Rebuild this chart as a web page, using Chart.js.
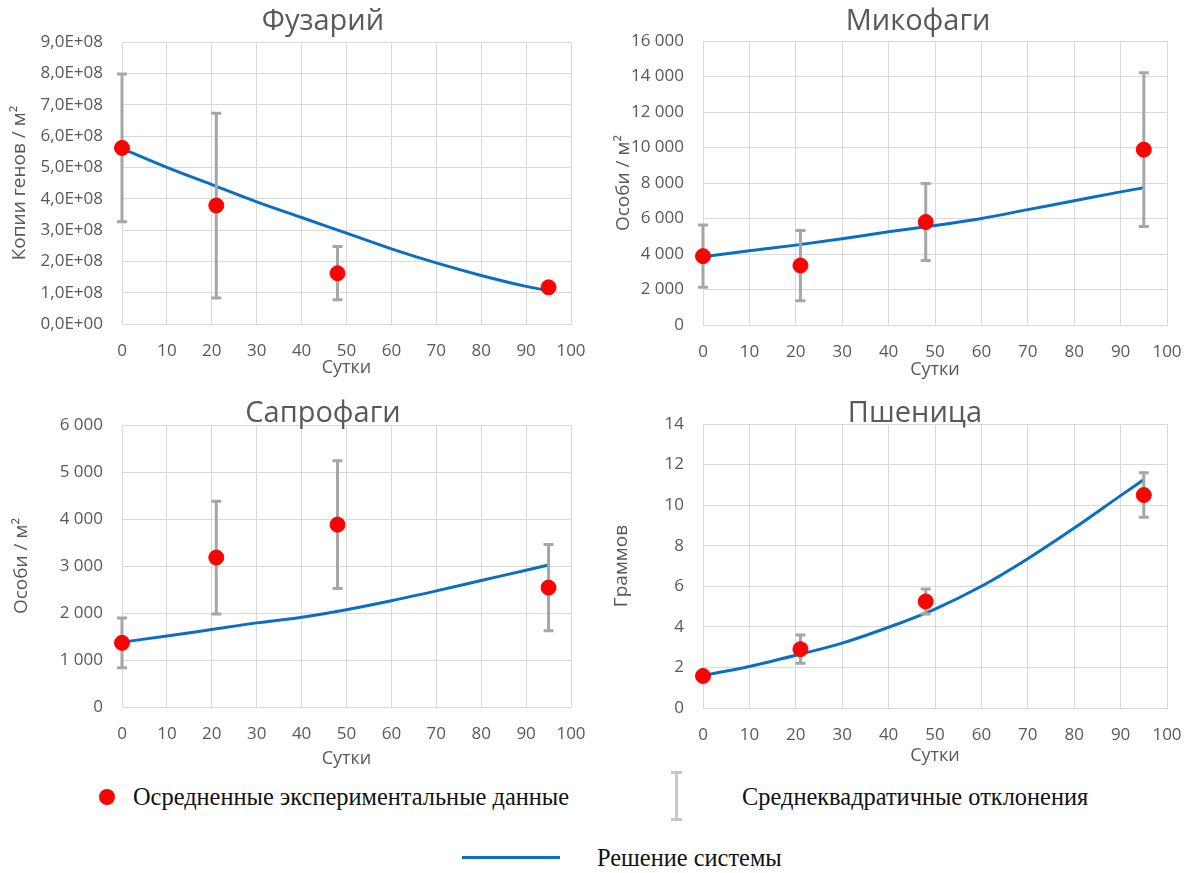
<!DOCTYPE html>
<html>
<head>
<meta charset="utf-8">
<script src="https://cdn.jsdelivr.net/npm/chart.js@4.4.1/dist/chart.umd.min.js"></script>
<style>
  body { margin: 0; background: #fff; width: 1189px; height: 873px; overflow: hidden; position: relative; font-family: "Open Sans", sans-serif; }
  canvas { position: absolute; }
  .ttl { position: absolute; transform: translate(-50%, -50%); font-size: 29px; color: #595959; white-space: nowrap; }
  .leg { position: absolute; transform: translateY(-50%); font-family: "Liberation Serif", serif; font-size: 24.4px; color: #111; white-space: nowrap; }
  .dot { position: absolute; width: 16px; height: 16px; border-radius: 50%; background: #ff0000; }
  .bar { position: absolute; background: #c8c8c8; }
  .sol { position: absolute; height: 3px; background: #0a6fc2; }
</style>
</head>
<body>
<canvas id="fus" width="590" height="385" style="left:0;top:0"></canvas>
<canvas id="myc" width="599" height="385" style="left:590px;top:0"></canvas>
<canvas id="sap" width="590" height="395" style="left:0;top:385px"></canvas>
<canvas id="wheat" width="599" height="395" style="left:590px;top:385px"></canvas>

<div class="ttl" style="left:323px;top:18px">Фузарий</div>
<div class="ttl" style="left:918px;top:18px">Микофаги</div>
<div class="ttl" style="left:323px;top:410px">Сапрофаги</div>
<div class="ttl" style="left:915px;top:410px">Пшеница</div>

<!-- legend -->
<div class="dot" style="left:99px;top:789px"></div>
<div class="leg" style="left:133px;top:797px">Осредненные экспериментальные данные</div>
<div class="bar" style="left:675px;top:772px;width:3px;height:48px"></div>
<div class="bar" style="left:671px;top:771px;width:11px;height:3px"></div>
<div class="bar" style="left:671px;top:818px;width:11px;height:3px"></div>
<div class="leg" style="left:742px;top:797px">Среднеквадратичные отклонения</div>
<div class="sol" style="left:462px;top:856px;width:98px"></div>
<div class="leg" style="left:597px;top:858px">Решение системы</div>

<script>
// sampling days of the experiment and of the model curve
const days = [0, 21, 48, 95];
const lineDays = [0, 10, 20, 30, 40, 50, 60, 70, 80, 90, 95];

// Фузарий, gene copies / m2
const fusMean = [5.62e8, 3.78e8, 1.62e8, 1.17e8];
const fusSd = [2.36e8, 2.95e8, 0.85e8, 0];
const fusModel = [5.6e8, 5.0e8, 4.45e8, 3.9e8, 3.4e8, 2.9e8, 2.4e8, 1.95e8, 1.55e8, 1.2e8, 1.06e8];

// Микофаги, individuals / m2
const mycMean = [3880, 3350, 5800, 9880];
const mycSd = [1760, 1980, 2170, 4330];
const mycModel = [3850, 4180, 4500, 4860, 5250, 5600, 6000, 6500, 7000, 7500, 7730];

// Сапрофаги, individuals / m2
const sapMean = [1365, 3180, 3880, 2540];
const sapSd = [530, 1200, 1360, 920];
const sapModel = [1380, 1510, 1650, 1790, 1910, 2070, 2260, 2470, 2690, 2910, 3020];

// Пшеница, grams
const wheatMean = [1.58, 2.9, 5.25, 10.5];
const wheatSd = [0, 0.7, 0.62, 1.1];
const wheatModel = [1.6, 2.05, 2.6, 3.2, 3.98, 4.88, 6.0, 7.36, 8.87, 10.47, 11.26];

Chart.defaults.font.family = '"Open Sans", sans-serif';
Chart.defaults.color = '#595959';

const GRID = '#d9d9d9';

function spaced(v) {
    return String(v).replace(/\B(?=(\d{3})+(?!\d))/g, ' ');
}

function sci(v) {
    if (v === 0) return '0,0E+00';
    return (v / 1e8).toFixed(1).replace('.', ',') + 'E+08';
}

// draws the standard deviation whiskers right after the model line
function errorBarPlugin(mean, sd) {
    return {
        id: 'errorBars',
        afterDatasetDraw(chart, args) {
            if (args.index !== 0) return;
            const ctx = chart.ctx;
            const x = chart.scales.x, y = chart.scales.y;
            ctx.save();
            ctx.strokeStyle = '#a6a6a6';
            ctx.lineWidth = 3;
            mean.forEach((m, i) => {
                if (!sd[i]) return;
                const px = x.getPixelForValue(days[i]);
                const top = y.getPixelForValue(m + sd[i]);
                const bot = y.getPixelForValue(m - sd[i]);
                ctx.beginPath();
                ctx.moveTo(px, top); ctx.lineTo(px, bot);
                ctx.moveTo(px - 5, top); ctx.lineTo(px + 5, top);
                ctx.moveTo(px - 5, bot); ctx.lineTo(px + 5, bot);
                ctx.stroke();
            });
            ctx.restore();
        }
    };
}

function makeChart(id, cfg) {
    return new Chart(document.getElementById(id), {
        type: 'scatter',
        data: {
            datasets: [
                {
                    data: lineDays.map((d, i) => ({ x: d, y: cfg.model[i] })),
                    showLine: true,
                    borderColor: '#0a6fc2',
                    borderWidth: 3,
                    pointRadius: 0,
                    cubicInterpolationMode: 'monotone',
                    order: 1,
                    clip: false
                },
                {
                    data: days.map((d, i) => ({ x: d, y: cfg.mean[i] })),
                    backgroundColor: '#ff0000',
                    borderColor: '#ff0000',
                    pointRadius: 7.5,
                    order: 0,
                    clip: false
                }
            ]
        },
        options: {
            responsive: false,
            animation: false,
            events: [],
            layout: { padding: { top: cfg.top, right: cfg.right, left: 0, bottom: 0 } },
            plugins: { legend: { display: false }, tooltip: { enabled: false } },
            scales: {
                x: {
                    type: 'linear',
                    min: 0,
                    max: 100,
                    ticks: { stepSize: 10, padding: 17, font: { size: 17 } },
                    grid: { color: GRID, drawTicks: false },
                    border: { color: GRID },
                    title: { display: true, text: 'Сутки', font: { size: 18 }, padding: { top: 0, bottom: cfg.xTitlePad } },
                    afterFit(s) {
                        s.height = cfg.xh;
                        // tick padding should not eat into the plot width
                        s.paddingLeft = 0;
                        s.paddingRight = 0;
                    }
                },
                y: {
                    min: 0,
                    max: cfg.max,
                    ticks: { stepSize: cfg.step, padding: 19, font: { size: 17 }, callback: cfg.fmt },
                    grid: { color: GRID, drawTicks: false },
                    border: { color: GRID },
                    title: { display: true, text: cfg.yTitle, font: { size: 19 }, padding: { top: cfg.yTitlePad, bottom: 0 } },
                    afterFit(s) { s.width = cfg.yw; }
                }
            }
        },
        plugins: [errorBarPlugin(cfg.mean, cfg.sd)]
    });
}

document.addEventListener('DOMContentLoaded', function() {
    makeChart('fus', {
        model: fusModel, mean: fusMean, sd: fusSd,
        max: 9e8, step: 1e8, fmt: sci, yTitle: 'Копии генов / м²',
        top: 42, right: 19, yw: 122, xh: 61, xTitlePad: 6, yTitlePad: 8
    });
    makeChart('myc', {
        model: mycModel, mean: mycMean, sd: mycSd,
        max: 16000, step: 2000, fmt: spaced, yTitle: 'Особи / м²',
        top: 41, right: 22, yw: 113, xh: 60, xTitlePad: 4, yTitlePad: 22
    });
    makeChart('sap', {
        model: sapModel, mean: sapMean, sd: sapSd,
        max: 6000, step: 1000, fmt: spaced, yTitle: 'Особи / м²',
        top: 40, right: 19, yw: 122, xh: 73, xTitlePad: 10, yTitlePad: 10
    });
    makeChart('wheat', {
        model: wheatModel, mean: wheatMean, sd: wheatSd,
        max: 14, step: 2, fmt: v => v, yTitle: 'Граммов',
        top: 39, right: 22, yw: 113, xh: 72, xTitlePad: 13, yTitlePad: 20
    });
});
</script>
</body>
</html>
